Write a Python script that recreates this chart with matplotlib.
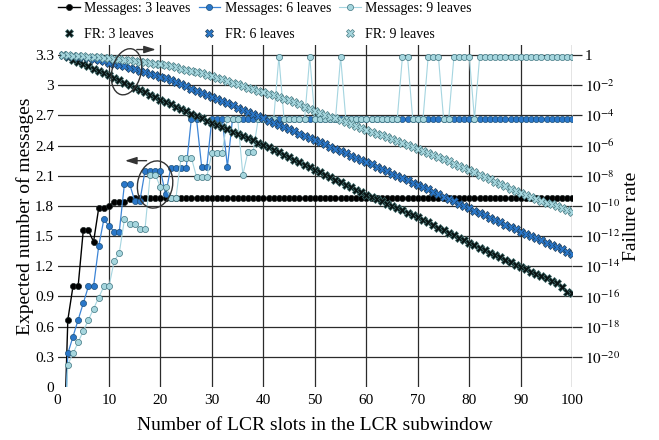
import numpy as np
import matplotlib
matplotlib.use("Agg")
import matplotlib.pyplot as plt
from matplotlib.patches import Ellipse
from matplotlib.transforms import ScaledTranslation

plt.rcParams['font.family'] = ['Liberation Serif', 'DejaVu Serif']
plt.rcParams['mathtext.fontset'] = 'stix'

slots = np.arange(1, 101)

# expected number of messages (left axis)
msg_3 = [-1.0, 0.667, 1.0, 1.0, 1.556, 1.556, 1.444, 1.778, 1.778, 1.8,
         1.84, 1.84, 1.84, 1.865, 1.875, 1.875, 1.875, 1.875, 1.875, 1.875,
         1.875, 1.875, 1.875, 1.875, 1.875, 1.875, 1.875, 1.875, 1.875, 1.875,
         1.875, 1.875, 1.875, 1.875, 1.875, 1.875, 1.875, 1.875, 1.875, 1.875,
         1.875, 1.875, 1.875, 1.875, 1.875, 1.875, 1.875, 1.875, 1.875, 1.875,
         1.875, 1.875, 1.875, 1.875, 1.875, 1.875, 1.875, 1.875, 1.875, 1.875,
         1.875, 1.875, 1.875, 1.875, 1.875, 1.875, 1.875, 1.875, 1.875, 1.875,
         1.875, 1.875, 1.875, 1.875, 1.875, 1.875, 1.875, 1.875, 1.875, 1.875,
         1.875, 1.875, 1.875, 1.875, 1.875, 1.875, 1.875, 1.875, 1.875, 1.875,
         1.875, 1.875, 1.875, 1.875, 1.875, 1.875, 1.875, 1.875, 1.875, 1.875]
msg_6 = [-1.0, 0.333, 0.5, 0.667, 0.833, 1.0, 1.0, 1.4, 1.667, 1.6,
         1.545, 1.545, 2.02, 2.02, 1.85, 1.85, 2.15, 2.15, 2.15, 2.15,
         1.915, 2.18, 2.18, 2.18, 2.18, 2.667, 2.667, 2.19, 2.19, 2.667,
         2.667, 2.667, 2.19, 2.667, 2.667, 2.667, 2.667, 2.667, 2.667, 2.667,
         2.667, 2.667, 2.667, 2.667, 2.667, 2.667, 2.667, 2.667, 2.667, 2.667,
         2.667, 2.667, 2.667, 2.667, 2.667, 2.667, 2.667, 2.667, 2.667, 2.667,
         2.667, 2.667, 2.667, 2.667, 2.667, 2.667, 2.667, 2.667, 2.667, 2.667,
         2.667, 2.667, 2.667, 2.667, 2.667, 2.667, 2.667, 2.667, 2.667, 2.667,
         2.667, 2.667, 2.667, 2.667, 2.667, 2.667, 2.667, 2.667, 2.667, 2.667,
         2.667, 2.667, 2.667, 2.667, 2.667, 2.667, 2.667, 2.667, 2.667, 2.667]
msg_9 = [-1.0, 0.222, 0.333, 0.444, 0.556, 0.667, 0.778, 0.889, 1.0, 1.0,
         1.25, 1.333, 1.667, 1.62, 1.62, 1.574, 1.574, 2.11, 2.11, 1.985,
         1.985, 1.876, 1.876, 2.28, 2.28, 2.28, 2.09, 2.09, 2.09, 2.33,
         2.33, 2.33, 2.667, 2.667, 2.667, 2.11, 2.34, 2.34, 2.667, 2.667,
         2.667, 2.667, 3.28, 2.667, 2.667, 2.667, 2.667, 2.667, 3.28, 2.667,
         2.667, 2.667, 2.667, 2.667, 3.28, 2.667, 2.667, 2.667, 2.667, 2.667,
         2.667, 2.667, 2.667, 2.667, 2.667, 2.667, 3.28, 3.28, 2.667, 2.667,
         2.667, 3.28, 3.28, 3.28, 2.667, 2.667, 3.28, 3.28, 3.28, 3.28,
         2.667, 3.28, 3.28, 3.28, 3.28, 3.28, 3.28, 3.28, 3.28, 3.28,
         3.28, 3.28, 3.28, 3.28, 3.28, 3.28, 3.28, 3.28, 3.28, 3.28]

# failure rate (right axis), given as log10 exponents
fr_3_exp = [0.00, -0.15, -0.30, -0.45, -0.60, -0.75, -0.90, -1.05, -1.20, -1.35,
            -1.51, -1.67, -1.83, -1.99, -2.15, -2.31, -2.47, -2.63, -2.79, -2.95,
            -3.10, -3.26, -3.41, -3.57, -3.72, -3.88, -4.03, -4.19, -4.34, -4.50,
            -4.64, -4.79, -4.93, -5.08, -5.22, -5.37, -5.51, -5.66, -5.80, -5.95,
            -6.11, -6.28, -6.44, -6.61, -6.77, -6.94, -7.10, -7.27, -7.43, -7.60,
            -7.76, -7.93, -8.09, -8.26, -8.42, -8.59, -8.75, -8.92, -9.08, -9.25,
            -9.40, -9.55, -9.70, -9.85, -10.00, -10.15, -10.30, -10.45, -10.60, -10.75,
            -10.92, -11.09, -11.26, -11.43, -11.60, -11.77, -11.94, -12.11, -12.28, -12.45,
            -12.61, -12.77, -12.93, -13.09, -13.25, -13.41, -13.57, -13.73, -13.89, -14.05,
            -14.20, -14.35, -14.50, -14.65, -14.80, -14.95, -15.10, -15.35, -15.70, -15.74]
fr_6_exp = [0.00, -0.03, -0.07, -0.11, -0.16, -0.21, -0.27, -0.33, -0.41, -0.50,
            -0.58, -0.66, -0.75, -0.84, -0.94, -1.03, -1.13, -1.23, -1.33, -1.43,
            -1.55, -1.68, -1.81, -1.94, -2.08, -2.22, -2.35, -2.49, -2.62, -2.76,
            -2.90, -3.05, -3.19, -3.34, -3.48, -3.62, -3.77, -3.91, -4.06, -4.20,
            -4.34, -4.49, -4.63, -4.77, -4.91, -5.06, -5.20, -5.34, -5.49, -5.63,
            -5.78, -5.92, -6.07, -6.22, -6.37, -6.51, -6.66, -6.81, -6.95, -7.10,
            -7.25, -7.40, -7.55, -7.70, -7.85, -8.00, -8.15, -8.30, -8.45, -8.60,
            -8.76, -8.91, -9.07, -9.22, -9.38, -9.54, -9.69, -9.85, -10.00, -10.16,
            -10.31, -10.47, -10.62, -10.78, -10.93, -11.08, -11.24, -11.39, -11.55, -11.70,
            -11.85, -12.00, -12.14, -12.29, -12.44, -12.59, -12.74, -12.88, -13.03, -13.18]
fr_9_exp = [0.00, -0.02, -0.04, -0.06, -0.09, -0.11, -0.14, -0.16, -0.19, -0.22,
            -0.25, -0.28, -0.31, -0.35, -0.39, -0.43, -0.47, -0.52, -0.56, -0.61,
            -0.68, -0.75, -0.82, -0.90, -0.97, -1.05, -1.13, -1.22, -1.31, -1.40,
            -1.50, -1.61, -1.72, -1.84, -1.95, -2.05, -2.15, -2.25, -2.35, -2.45,
            -2.56, -2.66, -2.77, -2.89, -3.01, -3.14, -3.27, -3.41, -3.55, -3.70,
            -3.83, -3.95, -4.08, -4.20, -4.33, -4.45, -4.58, -4.70, -4.83, -4.95,
            -5.08, -5.20, -5.33, -5.45, -5.58, -5.70, -5.83, -5.95, -6.08, -6.20,
            -6.34, -6.48, -6.63, -6.77, -6.91, -7.05, -7.19, -7.34, -7.48, -7.62,
            -7.78, -7.93, -8.09, -8.24, -8.40, -8.55, -8.71, -8.86, -9.02, -9.17,
            -9.29, -9.41, -9.53, -9.65, -9.78, -9.90, -10.02, -10.14, -10.26, -10.38]

left_ticks = [0, 0.3, 0.6, 0.9, 1.2, 1.5, 1.8, 2.1, 2.4, 2.7, 3, 3.3]
left_labels = ["0", "0.3", "0.6", "0.9", "1.2", "1.5", "1.8", "2.1", "2.4", "2.7", "3", "3.3"]
right_exps = [0, -2, -4, -6, -8, -10, -12, -14, -16, -18, -20]
right_labels = ["1"] + ["$10^{%d}$" % e for e in right_exps[1:]]

fig = plt.figure(figsize=(6.59, 4.40), dpi=100)
ax = fig.add_axes([0.0873, 0.1205, 0.7811, 0.7772])
ax2 = ax.twinx()

grid_c = '#2b2b2b'

m3, = ax.plot(slots, msg_3, '-o', color='black', lw=1.0, ms=4.4,
              mfc='black', mec='#1a2222', mew=0.5)
m6, = ax.plot(slots, msg_6, '-o', color='#3d85d6', lw=0.9, ms=4.4,
              mfc='#2a77c9', mec='#1b4f7a', mew=0.5)
m9, = ax.plot(slots, msg_9, '-o', color='#a5d5e0', lw=0.8, ms=4.4,
              mfc='#a6d6de', mec='#3e7480', mew=0.5)

f3, = ax2.plot(slots, 10.0 ** np.array(fr_3_exp), 'X', ls='none', ms=6,
               mfc='#0a1414', mec='#3c6a6a', mew=0.5)
f6, = ax2.plot(slots, 10.0 ** np.array(fr_6_exp), 'X', ls='none', ms=6,
               mfc='#2a77c9', mec='#1d3f5c', mew=0.5)
f9, = ax2.plot(slots, 10.0 ** np.array(fr_9_exp), 'X', ls='none', ms=6,
               mfc='#a6d6de', mec='#4a7c84', mew=0.5)

# left axis
ax.set_xticks(range(0, 101, 10))
ax.set_yticks(left_ticks)
ax.set_yticklabels(left_labels)
ax.grid(True, color=grid_c, lw=0.9)
ax.xaxis.get_gridlines()[0].set_visible(False)
ax.yaxis.get_gridlines()[0].set_visible(False)
ax.tick_params(axis='x', length=0, pad=5, labelsize=11)
ax.tick_params(axis='y', length=0, pad=2.5, labelsize=11)
for sp in ax.spines.values():
    sp.set_visible(False)
for sp in ax2.spines.values():
    sp.set_visible(False)

# right axis
ax2.set_yscale('log')
ax2.set_yticks([10.0 ** e for e in right_exps])
ax2.set_yticklabels(right_labels)
ax2.minorticks_off()
ax2.tick_params(axis='y', length=7, width=0.9, color=grid_c, pad=2, labelsize=11)

ax.set_xlabel("Number of LCR slots in the LCR subwindow", fontsize=14)
ax.set_ylabel("Expected number of messages", fontsize=14, va='center')
ax2.set_ylabel("Failure rate", fontsize=14, va='center')
ax.xaxis.set_label_coords(0.5, -0.088)
ax.yaxis.set_label_coords(-0.063, 0.5)
ax2.yaxis.set_label_coords(1.116, 0.5)

# ellipses and arrows pointing to the matching axis
e1 = Ellipse((0, 0), 0.29, 0.47, angle=-14, fill=False, ec='#333333', lw=1,
             transform=fig.dpi_scale_trans + ScaledTranslation(13.4, 3.134, ax.transData))
e2 = Ellipse((0, 0), 0.35, 0.475, angle=-10, fill=False, ec='#333333', lw=1,
             transform=fig.dpi_scale_trans + ScaledTranslation(18.95, 2.013, ax.transData))
fig.add_artist(e1)
fig.add_artist(e2)
arrow_props = dict(arrowstyle='-|>,head_length=0.7,head_width=0.22', color='#333333',
                   lw=1, mutation_scale=10, shrinkA=0, shrinkB=0)
ax.annotate('', xy=(19.1, 3.355), xytext=(15.4, 3.355), arrowprops=arrow_props,
            annotation_clip=False)
ax.annotate('', xy=(13.1, 2.25), xytext=(17.3, 2.25), arrowprops=arrow_props,
            annotation_clip=False)

ax.set_xlim(0, 100)
ax.set_ylim(0, 3.4)
ax2.set_ylim(1e-22, 10 ** (2 / 3))

fig.legend(handles=[m3, f3, m6, f6, m9, f9],
           labels=["Messages: 3 leaves", "FR: 3 leaves", "Messages: 6 leaves",
                   "FR: 6 leaves", "Messages: 9 leaves", "FR: 9 leaves"],
           ncol=3, loc='upper left', bbox_to_anchor=(0.0775, 1.012), frameon=False,
           borderpad=0, handlelength=1.55, handletextpad=0.32, columnspacing=0.6,
           labelspacing=0.95, fontsize=10, numpoints=1)

fig.savefig("out.png", dpi=100)
